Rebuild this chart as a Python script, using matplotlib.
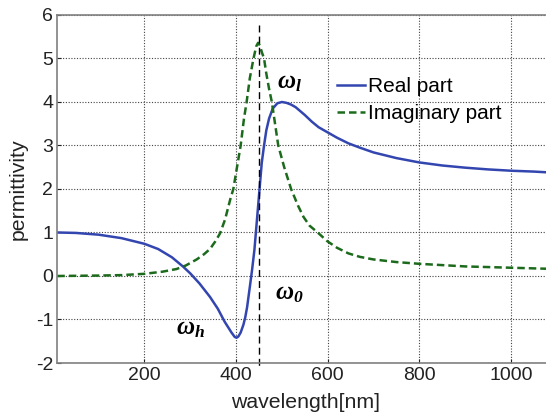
import numpy as np
import matplotlib
matplotlib.use("Agg")
import matplotlib.pyplot as plt

plt.rcParams['font.family'] = ['Liberation Sans', 'DejaVu Sans']
plt.rcParams['axes.unicode_minus'] = False
plt.rcParams['mathtext.fontset'] = 'custom'
plt.rcParams['mathtext.it'] = 'Liberation Serif:italic:bold'
plt.rcParams['mathtext.rm'] = 'Liberation Serif:italic:bold'

# real part of permittivity
wl_re = [10, 50, 100, 150, 200, 230, 260, 285, 300, 320, 343, 360, 375, 390, 397,
         401, 405, 410, 416, 420, 424, 430, 435, 440, 444, 448, 452, 456, 461, 466,
         472, 480, 490, 500, 510, 520, 530, 550, 565, 580, 600, 620, 645, 670, 700,
         750, 800, 850, 900, 950, 1000, 1050, 1100]
eps_re = [1.0, 0.99, 0.95, 0.87, 0.74, 0.62, 0.43, 0.21, 0.06, -0.17, -0.48, -0.75,
          -1.05, -1.30, -1.40, -1.42, -1.39, -1.30, -1.12, -0.95, -0.72, -0.25, 0.15,
          0.6, 1.1, 1.6, 2.1, 2.6, 3.0, 3.35, 3.62, 3.85, 3.97, 4.0, 3.98, 3.94, 3.88,
          3.7, 3.55, 3.42, 3.3, 3.18, 3.05, 2.95, 2.84, 2.71, 2.61, 2.54, 2.49, 2.45,
          2.42, 2.40, 2.37]

# imaginary part
wl_im = [10, 100, 150, 200, 240, 270, 290, 314, 330, 343, 355, 365, 376, 387, 394,
         402, 410, 417, 423, 430, 438, 444, 448, 452, 456, 461, 466, 472, 478, 485,
         492, 505, 520, 535, 547, 560, 578, 599, 620, 645, 670, 700, 750, 800, 850,
         900, 1000, 1100]
eps_im = [0.0, 0.01, 0.02, 0.05, 0.1, 0.16, 0.24, 0.38, 0.5, 0.62, 0.8, 0.98, 1.3,
          1.75, 2.0, 2.5, 3.0, 3.6, 4.0, 4.55, 5.0, 5.28, 5.36, 5.3, 5.15, 5.0, 4.65,
          4.3, 4.0, 3.5, 3.0, 2.5, 2.0, 1.62, 1.36, 1.16, 1.0, 0.8, 0.65, 0.52, 0.44,
          0.38, 0.32, 0.28, 0.25, 0.22, 0.19, 0.16]

w0 = 450
xticks = [200, 400, 600, 800, 1000]
yticks = [-2, -1, 0, 1, 2, 3, 4, 5, 6]

fig = plt.figure(figsize=(5.46, 4.15), dpi=100)
ax = fig.add_axes([0.105, 0.1253, 0.915, 0.8386])

ax.plot(wl_re, eps_re, color='#3346b0', lw=1.8, label='Real part')
ax.plot(wl_im, eps_im, color='#1c6b1c', lw=1.8, ls=(0, (3, 1.6)), label='Imaginary part')
ax.plot([w0, w0], [5.77, -2.1], color='black', lw=1.0, ls=(0, (5, 3)), clip_on=False)

ax.text(490, 4.45, r'$\omega_l$', fontsize=18, va='center', ha='left')
ax.text(484, -0.39, r'$\omega_0$', fontsize=18, va='center', ha='left')
ax.text(270, -1.2, r'$\omega_h$', fontsize=18, va='center', ha='left')

ax.set_xlim(10, 1100)
ax.set_ylim(-2, 6)
ax.set_xticks(xticks)
ax.set_yticks(yticks)
ax.grid(True, color='#444444', lw=0.8, ls=(0, (1, 1.5)))
ax.tick_params(direction='in', length=3, labelsize=14, colors='#222222', pad=3)
for s in ['left', 'bottom', 'top']:
    ax.spines[s].set_color('#808080')
    ax.spines[s].set_linewidth(1.2)
ax.spines['right'].set_visible(False)

ax.set_xlabel('wavelength[nm]', fontsize=15.3, color='#222222')
ax.set_ylabel('permittivity', fontsize=15.3, color='#222222')
ax.xaxis.set_label_coords(0.497, -0.086)
ax.yaxis.set_label_coords(-0.0596, 0.5)

ax.legend(loc='upper left', bbox_to_anchor=(0.5605, 0.822), frameon=False,
          fontsize=15, handlelength=1.33, handletextpad=0.16,
          borderpad=0, borderaxespad=0, labelspacing=0.4)

plt.savefig('out.png', dpi=100)
